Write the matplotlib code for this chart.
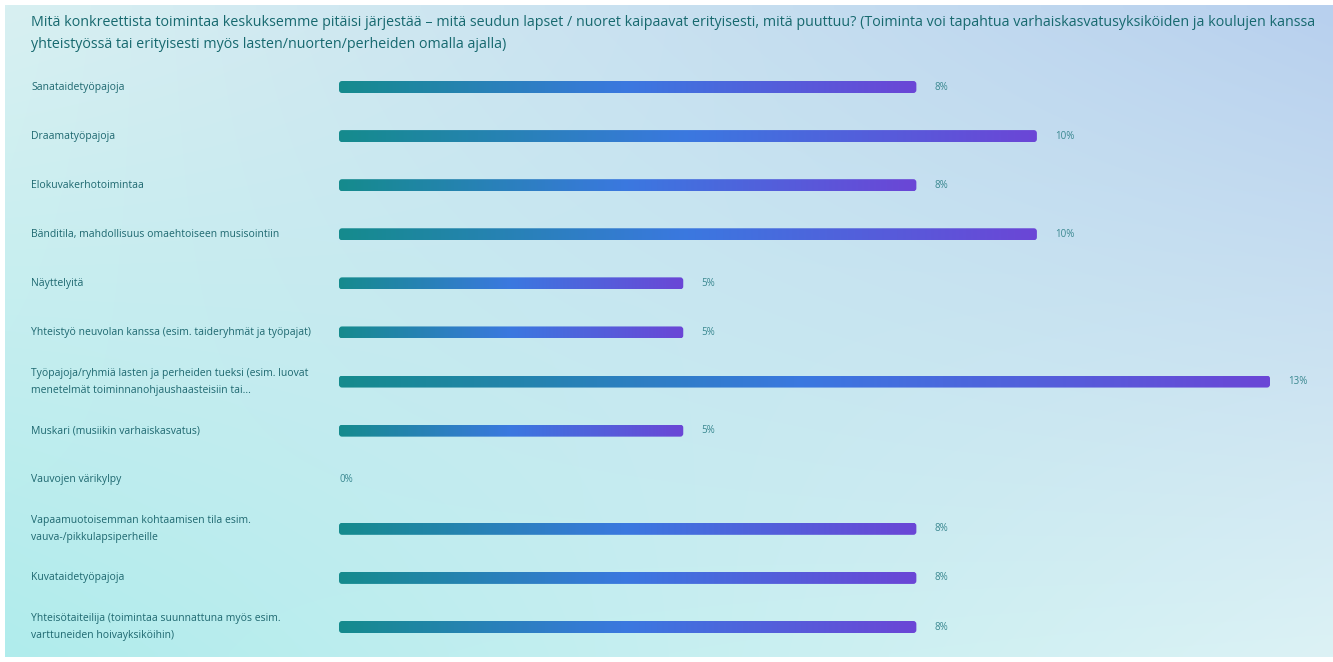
import numpy as np
import matplotlib
matplotlib.use("Agg")
import matplotlib.pyplot as plt
from matplotlib.patches import FancyBboxPatch
from matplotlib.colors import LinearSegmentedColormap
import matplotlib.transforms as mtransforms

plt.rcParams['font.family'] = ['Open Sans', 'DejaVu Sans']

title = ("Mitä konkreettista toimintaa keskuksemme pitäisi järjestää – mitä seudun lapset / nuoret kaipaavat erityisesti, mitä puuttuu? "
         "(Toiminta voi tapahtua varhaiskasvatusyksiköiden ja koulujen kanssa\n"
         "yhteistyössä tai erityisesti myös lasten/nuorten/perheiden omalla ajalla)")

categories = [
    "Sanataidetyöpajoja",
    "Draamatyöpajoja",
    "Elokuvakerhotoimintaa",
    "Bänditila, mahdollisuus omaehtoiseen musisointiin",
    "Näyttelyitä",
    "Yhteistyö neuvolan kanssa (esim. taideryhmät ja työpajat)",
    "Työpajoja/ryhmiä lasten ja perheiden tueksi (esim. luovat\nmenetelmät toiminnanohjaushaasteisiin tai...",
    "Muskari (musiikin varhaiskasvatus)",
    "Vauvojen värikylpy",
    "Vapaamuotoisemman kohtaamisen tila esim.\nvauva-/pikkulapsiperheille",
    "Kuvataidetyöpajoja",
    "Yhteisötaiteilija (toimintaa suunnattuna myös esim.\nvarttuneiden hoivayksiköihin)",
]
values = [8.0, 9.67, 8.0, 9.67, 4.77, 4.77, 12.9, 4.77, 0.0, 8.0, 8.0, 8.0]
value_labels = ["8%", "10%", "8%", "10%", "5%", "5%", "13%", "5%", "0%", "8%", "8%", "8%"]

W, H = 1333, 662
fig = plt.figure(figsize=(W / 100, H / 100), dpi=100)
fig.patch.set_facecolor("white")

# background panel
bg_ax = fig.add_axes([5 / W, 5 / H, 1 - 5 / W, 1 - 10 / H])
bg_ax.set_axis_off()
tl = np.array([216, 240, 242]) / 255
tr = np.array([184, 208, 238]) / 255
bl = np.array([176, 236, 236]) / 255
br = np.array([220, 242, 245]) / 255
ny, nx = 100, 200
yy, xx = np.mgrid[0:1:ny * 1j, 0:1:nx * 1j]
img = (tl[None, None, :] * ((1 - xx) * (1 - yy))[..., None]
       + tr[None, None, :] * (xx * (1 - yy))[..., None]
       + bl[None, None, :] * ((1 - xx) * yy)[..., None]
       + br[None, None, :] * (xx * yy)[..., None])
bg_ax.imshow(img, aspect="auto", extent=[0, 1, 0, 1], interpolation="bilinear")
bg_ax.set_xlim(0, 1)
bg_ax.set_ylim(0, 1)

# title
fig.text(31 / W, 1 - 33.5 / H, title, fontsize=10.25, color="#17696f",
         ha="left", va="center", linespacing=1.65)

# bars axes
n = len(categories)
spacing = (627 - 87) / (n - 1)
x0_px, xmax_px = 339, 1270
top_px = 87 - spacing / 2
bot_px = 627 + spacing / 2
ax = fig.add_axes([x0_px / W, 1 - bot_px / H, (xmax_px - x0_px) / W, (bot_px - top_px) / H])
ax.set_axis_off()
ax.patch.set_alpha(0)

cmap = LinearSegmentedColormap.from_list("g", ["#158b8d", "#3b78e0", "#6b46d6"])
grad = np.linspace(0, 1, 256)[None, :]
bar_h = 12 / spacing
px_per_unit_x = (xmax_px - x0_px) / max(values)
radius_x = 3 / px_per_unit_x

for i, (v, lab) in enumerate(zip(values, value_labels)):
    if v > 0:
        patch = FancyBboxPatch((0, i - bar_h / 2), v, bar_h,
                               boxstyle=f"round,pad=0,rounding_size={radius_x}",
                               mutation_aspect=px_per_unit_x / spacing,
                               facecolor="none", edgecolor="none",
                               transform=ax.transData)
        ax.add_patch(patch)
        im = ax.imshow(grad, cmap=cmap, aspect="auto",
                       extent=[0, v, i + bar_h / 2, i - bar_h / 2], zorder=2)
        im.set_clip_path(patch)
    ax.text(v + 18 / px_per_unit_x if v > 0 else 0, i, lab, fontsize=7, color="#3a8890",
            ha="left", va="center")

ax.set_xlim(0, max(values))
ax.set_ylim(n - 0.5, -0.5)

trans = mtransforms.blended_transform_factory(fig.transFigure, ax.transData)
for i, c in enumerate(categories):
    ax.text(31 / W, i, c, transform=trans, fontsize=7.5, color="#1e6870",
            ha="left", va="center", linespacing=1.75)

fig.savefig("out.png", dpi=100)
